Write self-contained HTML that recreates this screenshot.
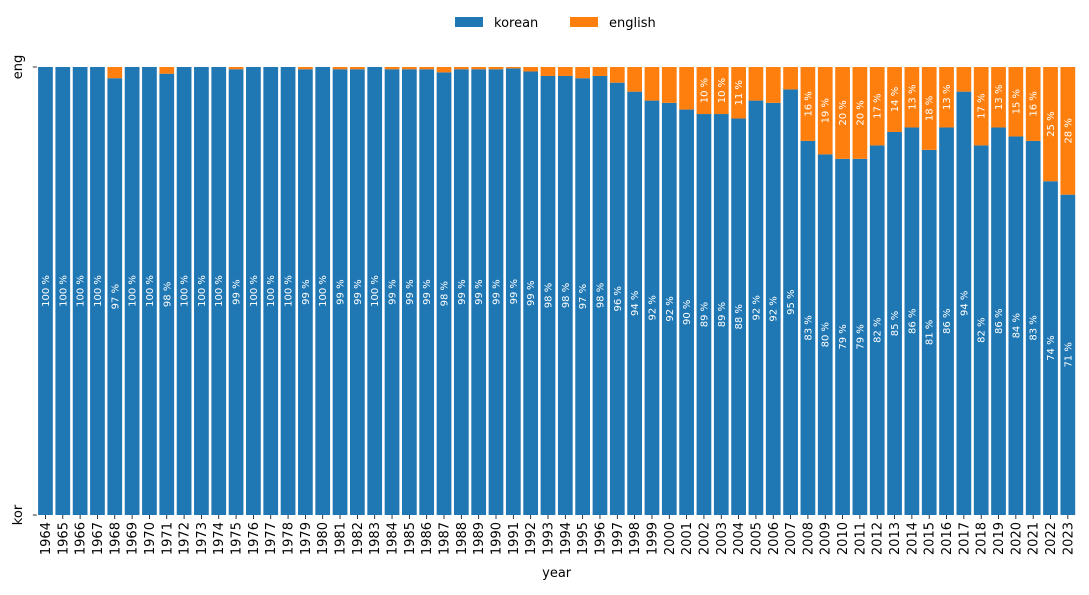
<!DOCTYPE html>
<html><head><meta charset="utf-8"><style>
body{margin:0;background:#fff;font-family:"Liberation Sans","DejaVu Sans",sans-serif}
svg text{font-family:"DejaVu Sans","Liberation Sans",sans-serif}
</style></head><body>
<svg id="chart" width="1089" height="590" xmlns="http://www.w3.org/2000/svg">
<g>
<rect x="455" y="17" width="28" height="10" fill="#1f77b4"/>
<text x="494" y="27" font-size="13">korean</text>
<rect x="570" y="17" width="28" height="10" fill="#ff7f0e"/>
<text x="609" y="27" font-size="13">english</text>
</g>
<g id="bars"></g>
<g id="axes"></g>
</svg>
<script>
const years=[];for(let y=1964;y<=2023;y++)years.push(y);
const korean=[100,100,100,100,97.5,100,100,98.5,100,100,100,99.5,100,100,100,99.5,100,99.5,99.5,100,99.5,99.5,99.5,98.8,99.5,99.5,99.5,99.7,99,98,98,97.5,98,96.5,94.5,92.5,92,90.5,89.5,89.5,88.5,92.5,92,95,83.5,80.5,79.5,79.5,82.5,85.5,86.5,81.5,86.5,94.5,82.5,86.5,84.5,83.5,74.5,71.5];
const english=korean.map(k=>100-k);
const NS="http://www.w3.org/2000/svg";
const L=36.8,R=1076.5,T=67,B=515;
const step=(R-L)/years.length;
const xc=i=>L+step*(i+0.5);
const yv=v=>B-(B-T)*v/100;
const bw=step*0.85;
const bars=document.getElementById('bars'),axes=document.getElementById('axes');
function el(t,a,p){const e=document.createElementNS(NS,t);for(const k in a)e.setAttribute(k,a[k]);p.appendChild(e);return e;}
years.forEach((yr,i)=>{
  const x=xc(i)-bw/2;
  const k=korean[i],e=english[i];
  const rk=el('rect',{x:x,y:yv(k),width:bw,height:yv(0)-yv(k),fill:'#1f77b4'},bars);
  
  
  if(e>0){
    const re=el('rect',{x:x,y:yv(100),width:bw,height:yv(k)-yv(100),fill:'#ff7f0e'},bars);
    
    
  }
  const cy=(yv(0)+yv(k))/2;
  const tk=el('text',{x:xc(i)+3.5,y:cy,'font-size':10,fill:'#fff','text-anchor':'middle',transform:`rotate(-90 ${xc(i)+3.5} ${cy})`},bars);
  tk.textContent=Math.floor(k)+' %';
  
  
  if(e>=10){
    const cy2=(yv(k)+yv(100))/2;
    const te=el('text',{x:xc(i)+3.5,y:cy2,'font-size':10,fill:'#fff','text-anchor':'middle',transform:`rotate(-90 ${xc(i)+3.5} ${cy2})`},bars);
    te.textContent=Math.floor(e)+' %';
    
    
  }
  el('line',{x1:xc(i),x2:xc(i),y1:B,y2:B+4,stroke:'#000','stroke-width':0.8},axes);
  const ty=B+7;
  const tl=el('text',{x:xc(i)+4.5,y:ty,'font-size':13,'text-anchor':'end',transform:`rotate(-90 ${xc(i)+4.5} ${ty})`},axes);
  tl.textContent=yr;
  
  
});
const yticks=[[0,'kor'],[100,'eng']];
yticks.forEach(([v,s])=>{
  el('line',{x1:L-4,x2:L,y1:yv(v),y2:yv(v),stroke:'#000','stroke-width':0.8},axes);
  const t=el('text',{x:22,y:yv(v),'font-size':13,'text-anchor':'middle',transform:`rotate(-90 22 ${yv(v)})`},axes);
  t.textContent=s;
  
  
});
const xt=el('text',{x:(L+R)/2,y:577,'font-size':13,'text-anchor':'middle'},axes);
xt.textContent='year';


</script>
</body></html>
